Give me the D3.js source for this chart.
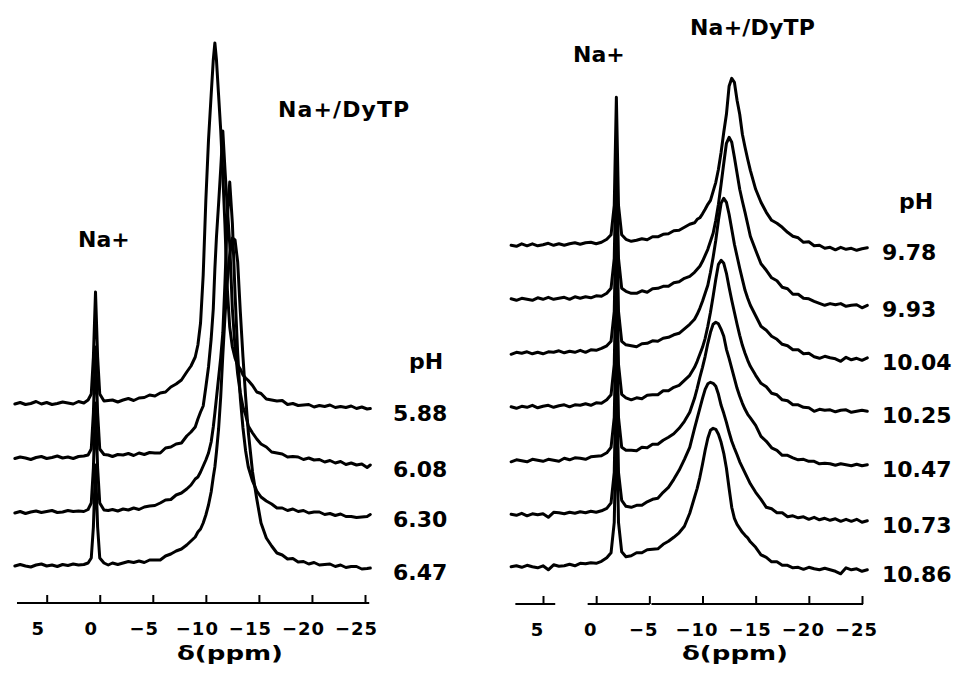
<!DOCTYPE html>
<html>
<head>
<meta charset="utf-8">
<script src="https://cdn.jsdelivr.net/npm/d3@7"></script>
<style>
  body { margin: 0; background: #fff; }
  svg text { font-family: "DejaVu Sans", sans-serif; font-weight: bold; fill: #000; }
</style>
</head>
<body>
<svg id="chart" width="958" height="695"></svg>
<script>
/**
 * Ticks of the chemical shift axis (ppm), shared by both panels.
 */
const ppmTicks = [5, 0, -5, -10, -15, -20, -25];

// Left panel: shift grid (ppm), pH of each trace, traces (intensity, a.u.)
const leftPpm = [8.0, 7.5, 7.0, 6.5, 6.0, 5.5, 5.0, 4.5, 4.0, 3.5, 3.0, 2.5, 2.0, 1.5,
  1.1, 0.8, 0.6, 0.4, 0.2, 0.0, -0.4, -0.8, -1.2, -1.7, -2.2, -2.7, -3.2, -3.7, -4.2,
  -4.7, -5.2, -5.7, -6.2, -6.7, -7.2, -7.7, -8.2, -8.6, -9.0, -9.25, -9.5, -9.75, -10.0,
  -10.25, -10.5, -10.7, -10.85, -11.0, -11.2, -11.4, -11.6, -11.8, -12.0, -12.25, -12.5,
  -12.75, -13.0, -13.25, -13.5, -13.75, -14.0, -14.4, -14.8, -15.2, -15.7, -16.2, -16.7,
  -17.2, -17.7, -18.2, -18.7, -19.2, -19.7, -20.2, -20.7, -21.2, -21.7, -22.2, -22.7,
  -23.2, -23.7, -24.2, -24.7, -25.2, -25.5];

const leftPh = ['5.88', '6.08', '6.30', '6.47'];

const leftPh588 = [1, 2.5, 0.5, 1.5, 3.5, 1, 2.5, 0.5, 1.5, 3, 2, 1, 3.5, 2,
  5, 11, 48, 113, 48, 11, 4,
  4.5, 5, 3, 5, 6.5, 4.5, 7, 7.5, 10, 9, 12, 13, 18, 21, 25,
  33, 39, 48, 60, 82, 130, 205, 265, 310, 345, 362, 345, 310, 275, 230, 180, 120, 78, 58, 47,
  40, 36, 30, 27, 24.5, 19.5, 13, 11.5, 6, 5, 4, 4.5, 0.5, 1.5, -0.5, 0, 0.5, -2, -0.5,
  -1.5, 0, -2.5, -1.5, -2.5, -1, -3.5, -2, -4, -3.5];

const leftPh608 = [0.5, 2, 1, -0.5, 1.5, 2.5, 0.5, 1.5, 3, 1, 2, 0.5, 2.5, 3,
  4, 10, 46, 112, 46, 10, 4.5,
  4, 2.5, 4.5, 4, 5.5, 3.5, 6, 4.5, 6.5, 6, 6, 11, 12, 15, 16,
  23, 27, 32, 40, 47, 53, 72, 92, 120, 150, 190, 222, 255, 290, 328, 290, 255, 215, 150, 112,
  85, 66, 52, 44, 33, 26, 20, 15, 12, 7, 6, 5, 2, 2.5, 2, -0.5, 1, -1, -0.5,
  -3, -1.5, -4, -2.5, -5.5, -4, -6, -5, -8.5, -6];

const leftPh630 = [0, 1.5, -0.5, 1, 2, 0.5, 1.5, 2.5, 0.5, 1, 2.5, 1.5, 2, 1.5,
  3.5, 10, 45, 110, 45, 10, 3,
  2.5, 3.5, 2, 4, 3, 5, 3.5, 6, 7, 7.5, 10, 13, 13.5, 18, 20,
  24, 28, 34, 36, 41, 47, 53, 60, 71, 86, 100, 115, 135, 155, 180, 230, 290, 331, 290, 220,
  160, 115, 85, 62, 46, 32, 22, 16, 12, 9, 5, 5, 2.5, 4, 1.5, 2.5, 0, 1, 1,
  -1.5, -0.5, -2.5, -1, -3.5, -3.5, -4.5, -4, -3.5, -1.5];

const leftPh647 = [1, 2.5, 1, 0, 2, 3, 1, 2, 0.5, 2.5, 1.5, 3, 2, 2.5,
  4, 9, 40, 102, 40, 9, 4,
  2, 4, 2.5, 4, 5.5, 4.5, 6, 4.5, 7, 7, 7, 11, 13, 16, 18,
  22, 26, 30, 35, 38, 44, 52, 62, 75, 90, 100, 115, 138, 170, 212, 250, 283, 312, 329, 327,
  305, 255, 210, 170, 135, 95, 68, 44, 29, 21, 14, 12, 8, 8.5, 5, 5.5, 3, 4.5, 2,
  2.5, 3, 0.5, 2, -0.5, 0.5, 0.5, -2, -1.5, -1];

// Right panel
const rightPpm = [8.0, 7.5, 7.0, 6.5, 6.0, 5.5, 5.0, 4.5, 4.0, 3.5, 3.0, 2.5, 2.0, 1.5,
  1.0, 0.5, 0.0, -0.5, -1.0, -1.4, -1.7, -1.9, -2.1, -2.4, -2.8, -3.3, -3.8, -4.3, -4.8,
  -5.3, -5.8, -6.3, -6.8, -7.3, -7.8, -8.3, -8.8, -9.25, -9.5, -9.75, -10.0, -10.25,
  -10.5, -10.75, -11.0, -11.25, -11.5, -11.75, -12.0, -12.25, -12.5, -12.75, -13.0,
  -13.25, -13.5, -13.75, -14.0, -14.25, -14.5, -15.0, -15.5, -16.0, -16.5, -17.0, -17.5,
  -18.0, -18.5, -19.0, -19.5, -20.0, -20.5, -21.0, -21.5, -22.0, -22.5, -23.0, -23.5,
  -24.0, -24.5, -25.0, -25.5];

const rightPh = ['9.78', '9.93', '10.04', '10.25', '10.47', '10.73', '10.86'];

const rightPh978 = [1, 0, 2.5, 0.5, 2.5, 0.5, 1.5, 3, 1, 2.5, 1, 2.5, 3.5, 2, 3.5, 4, 2.5, 4,
  7, 11.5, 41, 149, 41, 11.5, 7,
  5, 6, 7.5, 6.5, 9.5, 9.5, 12, 12.5, 15.5, 16, 19, 22,
  23.5, 27, 28.5, 32.5, 37, 42, 46, 55, 64, 77, 94, 114, 132, 160, 168, 164, 146, 132, 112, 99, 87, 76,
  57, 44, 34, 26, 23, 19, 14, 10, 8.5, 4, 4.5, 0.5, 1, -2, -1, -3.5, -1, -3, -2, -4, -2.5, -1.5];

const rightPh993 = [1.5, 0, 2, 1, 0, 2.5, 1, 3, 1, 2, 3, 1, 3.5, 2, 3.5, 2.5, 4.5, 4,
  7, 12, 42, 150, 42, 12, 9,
  7, 7, 9.5, 8, 11.5, 12, 14, 14, 17.5, 18.5, 22, 24,
  28, 31, 34, 39, 45, 51, 59, 67, 80, 96, 116, 137, 157, 163, 158, 143, 127, 111, 99, 88, 76, 64,
  50, 36.5, 30, 22.5, 19.5, 13, 11.5, 6, 6, 2, 1.5, -1, -3, -5, -3.3, -4.5, -3.3, -6, -5, -4.5, -7.5, -5];

const rightPh1004 = [0, 2, 1, 2.5, 0.5, 2, 0.5, 2.5, 2, 3.5, 1.5, 3, 2, 4, 2, 4.5, 4, 6,
  8.5, 13, 43, 153, 43, 13, 9.5,
  8.5, 7.5, 10.5, 11, 13.5, 13, 16, 17, 19.5, 21, 25.5, 30,
  35, 40, 46, 53, 61, 69, 82, 97, 114, 134, 151, 156, 152, 140, 125, 110, 98, 86, 75, 64, 56, 49,
  38.5, 28, 24, 18, 15, 10, 8.5, 4.5, 4.5, 0.5, 1, -2.5, -4, -2, -3.5, -4.5, -7, -3, -5.5, -4, -6, -3.5];

const rightPh1025 = [1.5, 0, 2, 1, 3, 0.5, 2, 3, 1, 2.5, 3.5, 1.5, 3.5, 3, 4.5, 3, 5.5, 5,
  8.5, 13.5, 44, 154, 44, 14, 10.5,
  8.5, 10.5, 9.5, 13, 13.5, 13.5, 17.5, 17.5, 21, 23, 28, 33,
  41, 47, 54, 61, 70, 82, 96, 112, 129, 144, 148, 145, 135, 121, 108, 96, 84, 73, 63, 55, 48, 42,
  33, 25, 21.5, 15, 13.5, 8.5, 7.5, 3.5, 3.5, 1, 0.5, -3, -1, -2, -1.5, -3.5, -2, -1.5, -4, -3, -2, -3];

const rightPh1047 = [0.5, 2.5, 1.5, 0.5, 3, 2, 1, 3, 2, 1, 4, 2.5, 4.5, 4, 3, 5.5, 6, 6.5,
  9.5, 15, 45, 155, 45, 15, 12,
  12, 11.5, 15, 14.5, 18, 18, 22, 25, 28.5, 34, 41, 50,
  64, 74, 85, 95, 106, 119, 130, 138, 140, 138.5, 133, 126, 113, 104, 94, 84, 74, 66, 59, 53, 48, 44.5,
  37, 26, 21, 14.5, 12, 7, 7, 4.5, 2.5, 3, 1, 1, -1.5, -1, -1.5, -3, -1.5, -2.5, -3.5, -2, -3.5, -2.5];

const rightPh1073 = [2, 1, 3, 0.5, 2.5, 1.5, 2.5, -1, 4, 3.5, 2.5, 4, 3, 4.5, 3.5, 5, 4, 5.5,
  8, 13.5, 44, 154, 44, 16, 10,
  9, 11, 11, 14.5, 17, 18, 24, 29, 37, 46, 57, 69,
  88, 98, 108, 118, 127, 132.5, 134, 133, 130, 122, 111, 103, 94, 84, 75, 68, 61.5, 54.5, 49, 43.5, 38, 32.5,
  24, 17, 9, 7.5, 3.5, 3.5, -0.5, 0.5, -1.5, -0.5, -3, -1, -3.5, -2, -4, -2.5, -5, -3, -5, -3, -6, -4.5];

const rightPh1086 = [3.5, 4.5, 3, 5, 3.5, 2.5, 4.5, 0.5, 5.5, 4, 4.5, 6, 4.5, 7, 6.5, 7.5, 7, 9,
  12.5, 17.5, 48, 158, 48, 18.5, 13.5,
  14.5, 17.5, 17.5, 20.5, 21, 21.5, 26, 29, 33, 37.5, 44, 57,
  73, 82, 93, 106, 120, 132, 140, 142, 141, 136, 128, 117, 102, 82, 63, 52, 46, 42, 38, 35, 32.5, 28.5,
  23, 15.5, 13, 8.5, 8.5, 5, 5, 2.5, 3, 1, 3, 1.5, 0.5, 2, 0.5, -1, -3.5, 2.5, 0.5, 1.5, -1, 0.5];

/**
 * Layout of the two panels.
 */
const panels = [
  {
    ppm: leftPpm,
    ph: leftPh,
    traces: [leftPh588, leftPh608, leftPh630, leftPh647],
    xRange: [46.7, 365],
    bottom: 567,
    step: 54,
    axisY: 603,
    axisRuns: [[7.8, -25.4]],
    tickDx: -9,
    phX: 393,
    titleX: 230,
    notes: [
      { text: 'Na+', x: 78, y: 247, size: 22, spacing: 0 },
      { text: 'Na+/DyTP', x: 278, y: 117, size: 22, spacing: 1.1 },
      { text: 'pH', x: 409, y: 369, size: 22, spacing: 0 }
    ]
  },
  {
    ppm: rightPpm,
    ph: rightPh,
    traces: [rightPh978, rightPh993, rightPh1004, rightPh1025, rightPh1047, rightPh1073, rightPh1086],
    xRange: [543, 862],
    bottom: 570.3,
    step: 54,
    axisY: 604,
    axisRuns: [[7.6, 3.85], [0.8, -5.05], [-5.2, -25.1]],
    tickDx: -6,
    phX: 882,
    titleX: 735,
    notes: [
      { text: 'Na+', x: 573, y: 62, size: 22, spacing: 0 },
      { text: 'Na+/DyTP', x: 690, y: 35, size: 22, spacing: 0.2 },
      { text: 'pH', x: 899, y: 209, size: 22, spacing: 0 }
    ]
  }
];

const svg = d3.select('#chart');

panels.forEach(drawPanel);

/**
 * Draw one stack of spectra with its axis and labels.
 *
 * @param   {Object}  p  Panel layout and data.
 */
function drawPanel (p) {
  const x = d3.scaleLinear().domain([5, -25]).range(p.xRange);
  // intensity units are plotted 1:1 in pixels above each trace's baseline
  const amp = d3.scaleLinear().domain([0, 100]).range([0, 100]);
  const count = p.traces.length;
  const baseY = i => p.bottom - (count - 1 - i) * p.step;
  const g = svg.append('g');

  p.traces.forEach((trace, i) => {
    const line = d3.line()
      .x((d, j) => x(p.ppm[j]))
      .y(d => baseY(i) - amp(d));

    g.append('path')
      .datum(trace)
      .attr('d', line)
      .attr('fill', 'none')
      .attr('stroke', '#000')
      .attr('stroke-width', 3)
      .attr('stroke-linejoin', 'round')
      .attr('stroke-linecap', 'round');

    g.append('text')
      .attr('x', p.phX)
      .attr('y', baseY(i) - amp(trace[trace.length - 1]) + 12)
      .style('font-size', '22px')
      .text(p.ph[i]);
  });

  // Axis: ticks point up, the base line is drawn in broken runs
  const axis = d3.axisBottom(x)
    .tickValues(ppmTicks)
    .tickSizeInner(-8)
    .tickSizeOuter(0)
    .tickPadding(19.5)
    .tickFormat(d3.format('d'));

  const ax = g.append('g')
    .attr('transform', `translate(0,${p.axisY})`)
    .call(axis);

  ax.select('.domain').remove();
  ax.selectAll('.tick line')
    .attr('stroke', '#000')
    .attr('stroke-width', 2);
  ax.selectAll('.tick text')
    .attr('dx', p.tickDx)
    .style('font-size', '18px')
    .style('letter-spacing', '1px')
    .style('font-family', '"DejaVu Sans", sans-serif')
    .style('font-weight', 'bold');

  ax.selectAll('line.run')
    .data(p.axisRuns)
    .join('line')
      .attr('class', 'run')
      .attr('x1', d => x(d[0]))
      .attr('x2', d => x(d[1]))
      .attr('y1', 0)
      .attr('y2', 0)
      .attr('stroke', '#000')
      .attr('stroke-width', 2);

  g.append('text')
    .attr('x', p.titleX)
    .attr('y', 660)
    .attr('text-anchor', 'middle')
    .attr('textLength', 106)
    .attr('lengthAdjust', 'spacingAndGlyphs')
    .style('font-size', '20px')
    .text('δ(ppm)');

  g.selectAll('text.note')
    .data(p.notes)
    .join('text')
      .attr('class', 'note')
      .attr('x', d => d.x)
      .attr('y', d => d.y)
      .style('font-size', d => `${d.size}px`)
      .style('letter-spacing', d => `${d.spacing}px`)
      .text(d => d.text);
}
</script>
</body>
</html>
